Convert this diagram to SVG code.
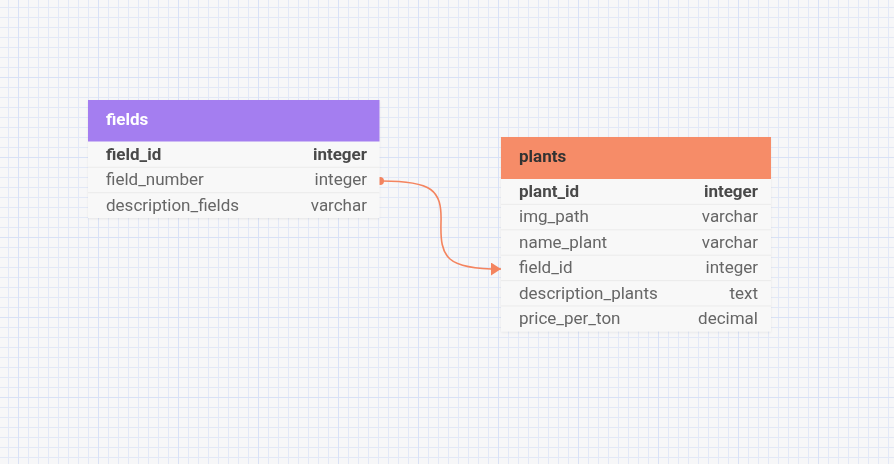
<svg xmlns="http://www.w3.org/2000/svg" width="894" height="464" viewBox="0 0 894 464">
  <defs>
    <pattern id="minor" x="8" y="7" width="10" height="10" patternUnits="userSpaceOnUse">
      <path d="M0 0.5H10M0.5 0V10" fill="none" stroke="#e2e8f7" stroke-width="1"/>
    </pattern>
    <pattern id="major" x="18" y="77" width="80" height="80" patternUnits="userSpaceOnUse">
      <path d="M0 0.5H80M0.5 0V80" fill="none" stroke="#d8e1f6" stroke-width="1"/>
    </pattern>
    <filter id="shadow" x="-5%" y="-5%" width="110%" height="115%">
      <feDropShadow dx="0" dy="1" stdDeviation="1.2" flood-color="#000" flood-opacity="0.07"/>
    </filter>
    <marker id="arrow" viewBox="0 0 10 13" refX="10" refY="6.5" markerWidth="10" markerHeight="13" markerUnits="userSpaceOnUse" orient="auto">
      <path d="M0 0L10 6.5L0 13Z" fill="#f4845f"/>
    </marker>
  </defs>
  <style>
    text { font-family: Roboto, "Liberation Sans", Arial, sans-serif; font-size: 17px; }
    .title { font-weight: bold; font-size: 17px; }
    .key { font-weight: bold; fill: #4a4a4a; }
    .col { fill: #666666; }
    .type { text-anchor: end; }
    .body { fill: #f8f8f8; }
    .sep { stroke: #ebebeb; stroke-width: 1; }
    .link { fill: none; stroke: #f4845f; stroke-width: 1.6; }
  </style>

  <!-- background grid -->
  <rect width="894" height="464" fill="#f7f7f8"/>
  <rect width="894" height="464" fill="url(#minor)"/>
  <rect width="894" height="464" fill="url(#major)"/>

  <!-- relationships -->
  <g id="connectors">
    <circle cx="380" cy="181" r="4" fill="#f4845f"/>
    <path class="link" d="M382 181C432 181 442 190 441 222C440 258 446 269 501 269" marker-end="url(#arrow)"/>
  </g>

  <g id="fields" filter="url(#shadow)">
    <rect class="body" x="88" y="100" width="291.5" height="118"/>
    <rect x="88" y="100" width="291.5" height="41.5" fill="#a47ef0"/>
    <text class="title" x="106" y="125" fill="#ffffff">fields</text>
    <line class="sep" x1="88" y1="167.3" x2="379.5" y2="167.3"/>
    <line class="sep" x1="88" y1="192.7" x2="379.5" y2="192.7"/>
    <text class="key" x="106" y="160">field_id</text>
    <text class="key type" x="367" y="160">integer</text>
    <text class="col" x="106" y="185.4">field_number</text>
    <text class="col type" x="367" y="185.4">integer</text>
    <text class="col" x="106" y="210.8">description_fields</text>
    <text class="col type" x="367" y="210.8">varchar</text>
  </g>

  <g id="plants" filter="url(#shadow)">
    <rect class="body" x="501" y="137" width="270" height="194.5"/>
    <rect x="501" y="137" width="270" height="42" fill="#f68c68"/>
    <text class="title" x="519" y="162" fill="#333333">plants</text>
    <line class="sep" x1="501" y1="204.4" x2="771" y2="204.4"/>
    <line class="sep" x1="501" y1="229.8" x2="771" y2="229.8"/>
    <line class="sep" x1="501" y1="255.2" x2="771" y2="255.2"/>
    <line class="sep" x1="501" y1="280.6" x2="771" y2="280.6"/>
    <line class="sep" x1="501" y1="306" x2="771" y2="306"/>
    <text class="key" x="519" y="197">plant_id</text>
    <text class="key type" x="758" y="197">integer</text>
    <text class="col" x="519" y="222.4">img_path</text>
    <text class="col type" x="758" y="222.4">varchar</text>
    <text class="col" x="519" y="247.8">name_plant</text>
    <text class="col type" x="758" y="247.8">varchar</text>
    <text class="col" x="519" y="273.2">field_id</text>
    <text class="col type" x="758" y="273.2">integer</text>
    <text class="col" x="519" y="298.6">description_plants</text>
    <text class="col type" x="758" y="298.6">text</text>
    <text class="col" x="519" y="324">price_per_ton</text>
    <text class="col type" x="758" y="324">decimal</text>
  </g>
</svg>
